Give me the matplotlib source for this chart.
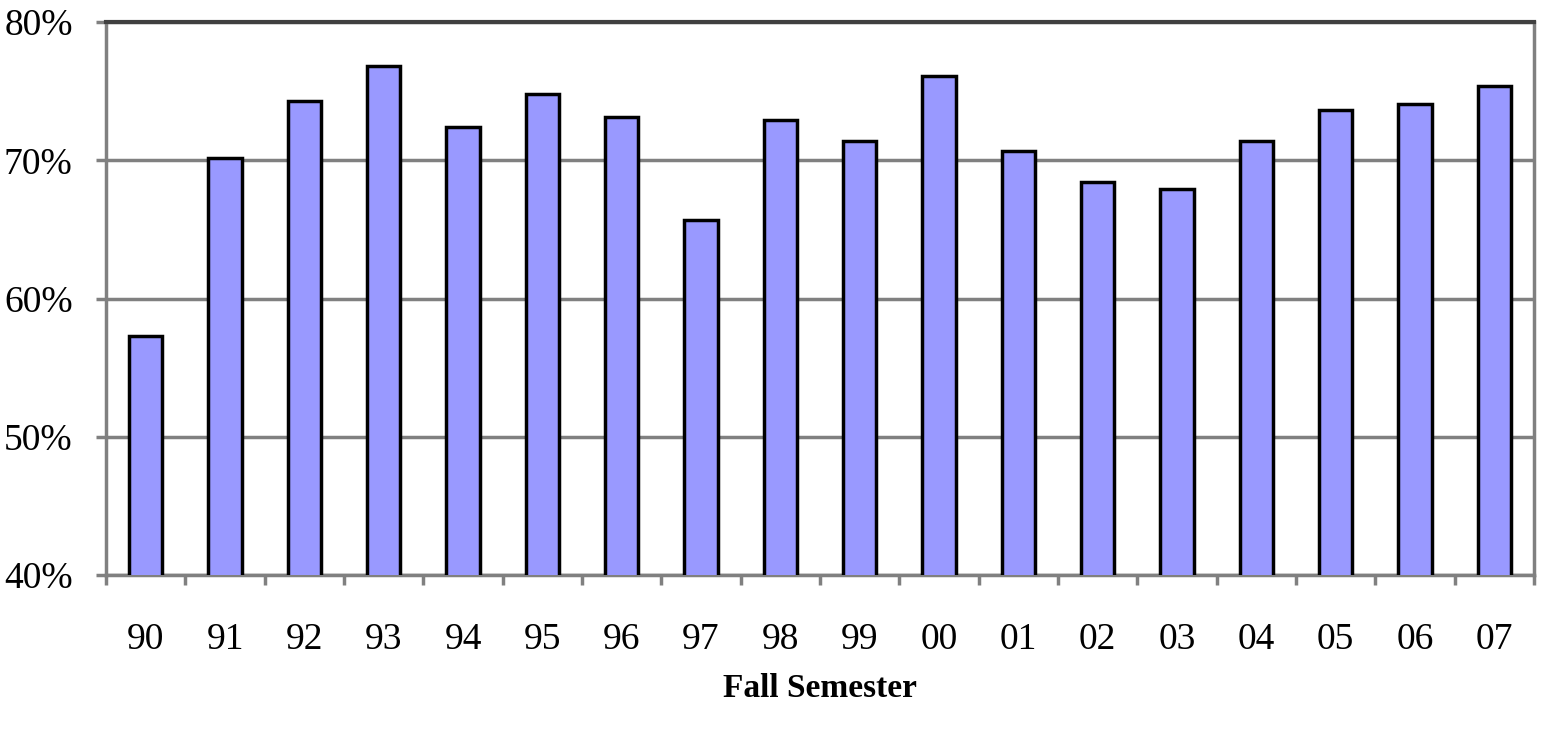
import matplotlib.pyplot as plt
import numpy as np
from matplotlib.ticker import FixedLocator, FuncFormatter

years = ['90', '91', '92', '93', '94', '95', '96', '97', '98',
         '99', '00', '01', '02', '03', '04', '05', '06', '07']
rates = [57.3, 70.2, 74.3, 76.8, 72.4, 74.8, 73.1, 65.7, 72.9,
         71.4, 76.1, 70.7, 68.4, 67.9, 71.4, 73.6, 74.1, 75.4]

plt.rcParams['font.family'] = ['Liberation Serif', 'DejaVu Serif']

fig = plt.figure(figsize=(15.43, 7.29), dpi=100)
ax = fig.add_axes([0.0687, 0.2112, 0.9255, 0.7586])

x = np.arange(len(years))
ax.bar(x, rates, width=0.42, color='#9999FF', edgecolor='black',
       linewidth=2.5, zorder=3)

ax.set_xlim(-0.5, len(years) - 0.5)
ax.set_ylim(40, 80)
ax.set_yticks([40, 50, 60, 70, 80])
ax.yaxis.set_major_formatter(FuncFormatter(lambda v, p: '%d%%' % v))
ax.grid(axis='y', color='#808080', linewidth=2.5, zorder=0)

ax.set_xticks(x)
ax.set_xticklabels(years)
ax.xaxis.set_minor_locator(FixedLocator(np.arange(-0.5, len(years), 1)))
ax.tick_params(axis='x', which='major', length=0, pad=34, labelsize=27)
ax.tick_params(axis='x', which='minor', length=7, width=2.5, color='#808080')
ax.tick_params(axis='y', length=7, width=2.5, color='#808080', pad=17,
               labelsize=27)

for s in ['left', 'right', 'bottom']:
    ax.spines[s].set_color('#808080')
    ax.spines[s].set_linewidth(2.5)
ax.spines['top'].set_color('#404040')
ax.spines['top'].set_linewidth(3)

ax.set_xlabel('Fall Semester', fontsize=24, fontweight='bold', labelpad=12)

plt.savefig('out.png')
